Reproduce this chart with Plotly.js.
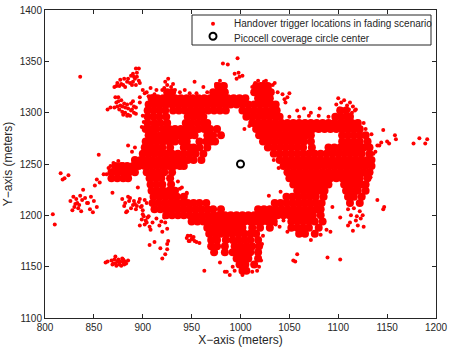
<!DOCTYPE html>
<html>
<head>
<meta charset="utf-8">
<script src="https://cdn.plot.ly/plotly-3.0.1.min.js"></script>
<style>html,body{margin:0;padding:0;background:#fff}</style>
</head>
<body>
<div id="plot" style="width:450px;height:348px"></div>
<script>
// solid part of the ring, read off row by row: [Y, [X, X, ...]]
// these overlap completely in the picture so they are drawn with a wider marker
const denseRows = [
  [1326, [977,983,1016,1022,1028]],
  [1320, [925,930,972,978,984,1014,1020,1026,1031]],
  [1314, [909,915,921,927,933,939,945,951,957,963,969,975,981,987,993,999,1005,1018,1024,1030]],
  [1308, [906,912,918,924,930,936,942,948,954,960,966,972,978,984,990,996,1002,1008,1014,1020,1026,1032,1036]],
  [1302, [905,911,917,923,931,937,943,949,955,961,967,973,979,985,1002,1008,1014,1020,1026,1032,1037,1102,1108]],
  [1296, [905,911,917,924,946,952,958,962,1006,1012,1018,1024,1030,1036,1040,1097,1103,1109,1112]],
  [1290, [905,912,918,925,944,950,956,962,966,1012,1018,1024,1030,1036,1042,1048,1054,1060,1066,1072,1078,1084,1090,1096,1102,1108,1114,1120]],
  [1284, [903,909,914,921,927,933,939,945,951,957,963,969,976,1016,1022,1028,1034,1040,1046,1052,1058,1064,1070,1074,1080,1086,1092,1098,1104,1110,1116,1122]],
  [1278, [906,912,918,924,930,936,942,948,953,966,972,980,1019,1025,1031,1037,1043,1049,1055,1061,1067,1072,1104,1110,1116,1122,1128]],
  [1272, [903,909,915,921,927,933,940,945,958,965,970,974,1023,1029,1035,1041,1047,1053,1059,1065,1072,1104,1110,1116,1122,1130]],
  [1266, [902,908,914,920,928,942,948,952,958,966,1028,1034,1040,1046,1052,1058,1064,1073,1090,1096,1102,1108,1114,1120,1126,1132]],
  [1260, [900,906,912,918,924,930,936,942,948,954,962,1034,1040,1046,1052,1058,1064,1070,1076,1082,1088,1094,1100,1106,1112,1118,1124,1132]],
  [1254, [892,898,904,910,916,922,928,934,940,946,952,960,1040,1046,1052,1058,1064,1070,1076,1082,1088,1094,1100,1106,1112,1118,1124,1130,1134]],
  [1248, [872,878,884,890,896,902,908,914,920,926,932,938,942,1044,1050,1056,1062,1068,1074,1080,1086,1092,1098,1104,1110,1116,1122,1128,1134]],
  [1242, [868,874,880,886,892,904,910,916,922,930,1048,1054,1060,1066,1072,1078,1084,1090,1096,1102,1108,1114,1120,1126,1132]],
  [1236, [868,874,880,885,907,913,919,928,1050,1056,1062,1068,1074,1080,1086,1092,1098,1104,1110,1116,1122,1130]],
  [1230, [908,914,920,929,1054,1060,1066,1072,1078,1084,1090,1106,1112,1118,1124,1128]],
  [1224, [909,915,921,927,933,1058,1064,1070,1076,1082,1086,1108,1114,1120,1128]],
  [1218, [911,917,923,929,935,942,1047,1053,1059,1065,1071,1077,1085,1110,1116,1124]],
  [1212, [910,916,922,928,934,940,946,952,958,965,1035,1041,1047,1053,1059,1065,1071,1077,1083,1112,1122]],
  [1206, [912,918,924,930,936,942,948,954,960,966,972,980,1018,1024,1030,1036,1042,1048,1054,1060,1066,1072,1078,1082]],
  [1200, [924,930,936,942,948,954,960,966,972,978,984,990,996,1002,1008,1014,1020,1026,1032,1038,1044,1050,1056,1062,1068,1074,1082]],
  [1194, [950,956,962,968,974,980,986,992,998,1004,1010,1016,1022,1028,1034,1052,1058,1064,1070,1076,1084]],
  [1188, [966,972,978,984,990,996,1002,1012,1020,1030,1052,1058,1064,1070,1080]],
  [1182, [968,974,980,986,992,998,1004,1010,1016,1060,1066,1076]],
  [1176, [970,976,985,992,998,1004,1010,1018]],
  [1170, [970,976,984,994,1000,1006,1012,1019]],
  [1164, [973,984,992,998,1004,1010,1018]],
  [1158, [996,1002,1008,1018]],
  [1152, [999,1005,1014]],
  [1146, [1002,1006]]
];

// separately visible trigger locations, grouped by where they sit around the ring
const strayPoints = [[836,1335],[855,1259],[808,1201],[810,1191],[816,1241],[820,1236],[824,1239],[818,1235],
  [839,1225],[851,1229],[853,1235],[856,1232],[860,1240],[869,1222],[895,1227],[867,1248],[880,1250],
  [885,1268],[889,1262],[892,1266],[900,1297],[901,1291],[899,1286],[963,1146],[979,1154],[984,1145],
  [936,1233],[940,1227],[945,1222],[938,1226],[945,1221],[955,1193],[1029,1219],[1041,1223],
  [1034,1254],[1039,1246],[1004,1284],[1009,1287],[1058,1162],[1054,1156],[1056,1155],[1089,1159],[1102,1157],
  [1094,1208],[1102,1198],[1147,1208],[1146,1206],[1140,1215],[1128,1238],[1133,1237],[1126,1189],[1115,1185],[1110,1190]];
const upperLeftPoints = [[885,1333],[887,1329],[888,1336],[890,1330],[890,1338],[892,1333],[893,1327],[894,1335],
  [896,1331],[897,1329],[893,1343],[896,1343],[894,1339],[889,1327],[891,1335],
  [871,1325],[874,1329],[877,1332],[880,1327],[884,1330],[873,1326],[878,1328],[882,1325],[881,1333],[876,1326],
  [864,1303],[867,1305],[871,1305],[872,1315],[875,1315],[873,1310],[875,1311],[877,1307],[874,1306],[879,1301],
  [879,1306],[882,1305],[882,1300],[885,1298],[885,1304],[888,1309],[888,1302],[891,1300],[891,1306],[893,1305],
  [897,1310],[880,1298],[884,1297],[887,1297],[889,1303],[878,1312],[881,1309],[884,1308],[876,1303],[890,1311],[893,1299],
  [897,1315],[900,1322],[904,1320],[908,1324],[912,1318],[914,1322],[902,1319],[906,1316],[910,1316],
  [920,1322],[923,1330],[926,1333],[929,1325],[931,1328],[925,1327],[922,1324],
  [933,1322],[938,1320],[943,1322],[948,1319],[953,1330],[962,1325],[955,1319],[966,1320]];
const upperMiddlePoints = [[975,1328],[979,1331],[982,1323],[984,1317],[977,1326],[980,1320],[982,1328],
  [982,1348],[987,1347],[997,1353],[994,1338],[996,1333],[999,1335],[1002,1336],[998,1339],
  [1012,1325],[1015,1329],[1018,1331],[1021,1326],[1024,1330],[1027,1328],[1030,1323],[1033,1327],[1026,1331],[1020,1328],
  [1035,1329],[1038,1320],[1043,1318],[1046,1310],[1048,1315],[1050,1319],[1045,1313],
  [1065,1304],[1081,1304],[1072,1300],[1058,1302],[1090,1296],[1050,1296],[1060,1296],[1070,1297],[1080,1297]];
const rightPoints = [[1098,1308],[1100,1314],[1103,1310],[1106,1312],[1109,1307],[1112,1310],[1115,1306],[1118,1303],
  [1101,1304],[1104,1303],[1108,1301],[1111,1303],[1114,1300],[1117,1302],
  [1121,1290],[1126,1290],[1128,1284],[1134,1279],[1140,1268],[1146,1283],[1152,1270],[1158,1278],[1159,1274],
  [1150,1272],[1142,1268],[1138,1262],[1144,1271],[1136,1260],[1131,1267],
  [1177,1270],[1183,1275],[1189,1270],[1191,1274],
  [1110,1206],[1113,1200],[1116,1207],[1119,1199],[1122,1204],[1125,1200],[1112,1193],[1118,1195],[1123,1197],[1120,1190]];
const lowerLeftPoints = [[826,1214],[829,1218],[832,1216],[835,1210],[838,1215],[841,1217],[844,1212],[847,1218],
  [850,1214],[853,1208],[828,1205],[831,1211],[834,1207],[837,1204],[843,1212],[846,1206],[849,1203],[830,1208],[833,1212],[836,1219],
  [879,1216],[882,1212],[885,1218],[888,1207],[891,1214],[894,1209],[897,1216],[900,1205],[904,1212],
  [881,1209],[884,1204],[887,1217],[890,1210],[893,1206],[896,1213],[899,1209],[902,1215],[883,1203],[886,1214],[892,1211],[898,1208],
  [865,1246],[870,1251],[875,1253],[868,1244],[863,1240],
  [897,1190],[900,1201],[903,1195],[906,1199],[910,1193],[899,1196],[902,1191],[905,1198],[908,1186],[901,1199],[904,1193],[907,1189],
  [907,1171],[912,1174],[918,1168],[920,1158],[923,1162],[925,1167],[926,1175],[925,1172],
  [914,1197],[917,1190],[920,1184],[923,1193],[925,1187],[919,1194],[922,1198],
  [945,1178],[947,1175],[949,1180],[951,1177],[953,1175],[946,1180],[950,1177],[952,1179],[948,1175],[958,1173],[955,1174]];
const bottomLeftPoints = [[862,1154],[864,1155],[868,1156],[870,1153],[872,1160],[874,1155],[876,1152],[878,1151],
  [880,1154],[882,1155],[885,1156],[869,1152],[871,1157],[873,1151],[875,1157],[877,1155],[879,1158],[881,1152],[883,1153],[872,1153],[876,1154],[880,1157]];
const bottomPoints = [[986,1145],[989,1142],[992,1150],[994,1146],[1002,1142],[1019,1150],[1023,1180],[1022,1172],
  [995,1162],[998,1155],[1005,1147],[1012,1145],[1017,1146],[1021,1156],
  [982,1197],[986,1191],[990,1189],[1036,1191],[1040,1189],[1044,1195],[1048,1184],[1088,1186],[1092,1184],[1082,1181],[1072,1176]];

const triggerPoints = strayPoints.concat(upperLeftPoints, upperMiddlePoints, rightPoints, lowerLeftPoints, bottomLeftPoints, bottomPoints);
const triggerX = triggerPoints.map(function (p) { return p[0]; });
const triggerY = triggerPoints.map(function (p) { return p[1]; });

const centerX = [1000];
const centerY = [1250];

const denseX = [];
const denseY = [];
denseRows.forEach(function (row) {
  row[1].forEach(function (x) {
    denseX.push(x);
    denseY.push(row[0]);
  });
});

const xTicks = [800,850,900,950,1000,1050,1100,1150,1200];
const yTicks = [1100,1150,1200,1250,1300,1350,1400];
const legendLabels = ['Handover trigger locations in fading scenario', 'Picocell coverage circle center'];

const traces = [
  {x: triggerX, y: triggerY, type: 'scatter', mode: 'markers', name: legendLabels[0],
   marker: {color: '#ff0000', size: 4}},
  {x: denseX, y: denseY, type: 'scatter', mode: 'markers', name: legendLabels[0],
   marker: {color: '#ff0000', size: 8}},
  {x: centerX, y: centerY, type: 'scatter', mode: 'markers', name: legendLabels[1],
   marker: {symbol: 'circle-open', color: '#000', size: 7, line: {color: '#000', width: 2}}}
];

const axisStyle = {
  showgrid: false, zeroline: false, showline: true, mirror: 'ticks',
  linecolor: '#262626', linewidth: 1, ticks: 'inside', ticklen: 4, tickcolor: '#262626',
  tickfont: {family: 'Liberation Sans', size: 10, color: '#262626'}, tickmode: 'array'
};

// plotly's own legend forces rows of 19px, the original has 14px, so the box is built by hand
function px(x) { return (x - 45) / 391; }
function py(y) { return (318 - y) / 308; }
function paperCircle(cx, cy, r, fill, line) {
  return {type: 'circle', xref: 'paper', yref: 'paper',
    x0: px(cx - r), x1: px(cx + r), y0: py(cy + r), y1: py(cy - r),
    fillcolor: fill, line: line};
}

const layout = {
  width: 450, height: 348,
  margin: {l: 45, r: 14, t: 10, b: 30, autoexpand: false},
  paper_bgcolor: '#fff', plot_bgcolor: '#fff',
  showlegend: false,
  xaxis: Object.assign({}, axisStyle, {
    range: [800, 1200], tickvals: xTicks, ticktext: xTicks.map(String),
    title: {text: 'X\u2212axis (meters)', standoff: 2, font: {family: 'Liberation Sans', size: 12, color: '#262626'}}
  }),
  yaxis: Object.assign({}, axisStyle, {
    range: [1100, 1400], tickvals: yTicks, ticktext: yTicks.map(String),
    title: {text: 'Y\u2212axis (meters)', standoff: 4, font: {family: 'Liberation Sans', size: 12, color: '#262626'}}
  }),
  shapes: [
    {type: 'rect', xref: 'paper', yref: 'paper', x0: px(192), x1: px(431), y0: py(45), y1: py(15),
     fillcolor: '#fff', line: {color: '#262626', width: 1}},
    paperCircle(213, 23.7, 2, '#ff0000', {width: 0}),
    paperCircle(213, 36.3, 3.5, 'rgba(0,0,0,0)', {color: '#000', width: 2})
  ],
  annotations: [
    {text: legendLabels[0], xref: 'paper', yref: 'paper', x: px(232), y: py(24), xanchor: 'left', yanchor: 'middle',
     showarrow: false, font: {family: 'Liberation Sans', size: 10, color: '#262626'}},
    {text: legendLabels[1], xref: 'paper', yref: 'paper', x: px(232), y: py(38), xanchor: 'left', yanchor: 'middle',
     showarrow: false, font: {family: 'Liberation Sans', size: 10, color: '#262626'}}
  ]
};

Plotly.newPlot('plot', traces, layout, {displayModeBar: false});
</script>
</body>
</html>
